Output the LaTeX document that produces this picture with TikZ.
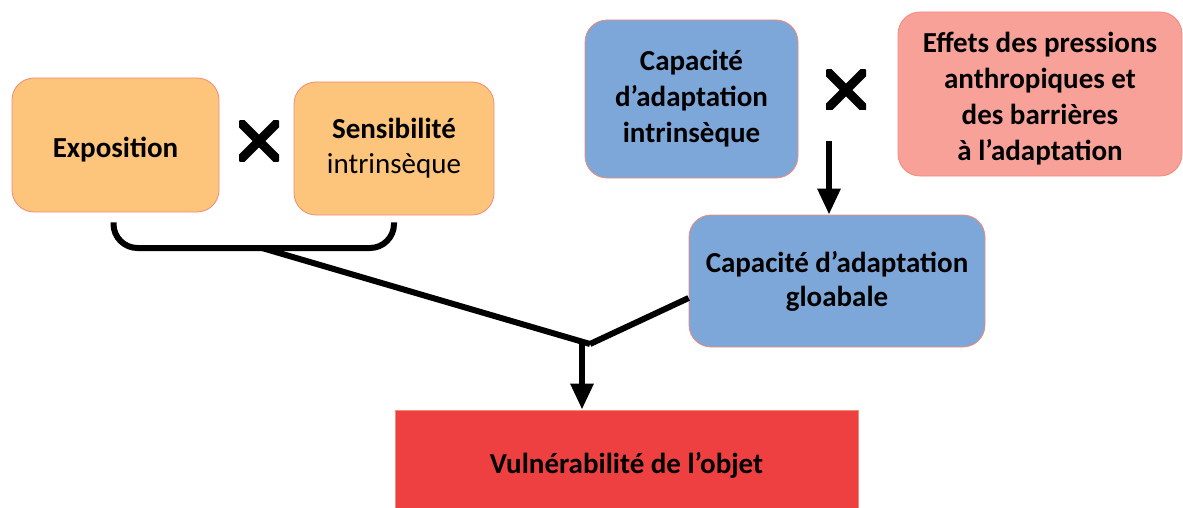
\documentclass[tikz,border=0pt]{standalone}
\usepackage{fontspec}
\setmainfont{Carlito}
\usetikzlibrary{arrows.meta,calc}
\definecolor{orangebox}{HTML}{FCC57B}
\definecolor{bluebox}{HTML}{7DA7D9}
\definecolor{salmonbox}{HTML}{F7A199}
\definecolor{redbox}{HTML}{EE4040}
\definecolor{edgecol}{HTML}{F28A78}
\tikzset{
  box/.style={draw=edgecol, line width=0.8pt, rounded corners=22pt, align=center,
    font=\fontsize{29}{36}\selectfont\bfseries, inner sep=4pt},
  conn/.style={line width=6pt, black},
  arr/.style={line width=6pt, black, -{Triangle[width=22pt,length=26pt]}},
  crossmark/.style={minimum size=40pt, inner sep=0pt,
    path picture={\draw[line width=9pt] (path picture bounding box.north west) -- (path picture bounding box.south east)
      (path picture bounding box.north east) -- (path picture bounding box.south west);}}
}
\begin{document}
\begin{tikzpicture}[x=1pt,y=-1pt]
\useasboundingbox (0,0) rectangle (1183,508);
\node[box, fill=orangebox, minimum width=207pt, minimum height=134pt] (expo) at (115.5,145) {\raisebox{-5pt}[\height][\depth]{Exposition}};
\node[box, fill=orangebox, minimum width=200pt, minimum height=133pt] (sens) at (394,148.5) {Sensibilité\\[-1pt]\mdseries intrinsèque};
\node[crossmark] (x1) at (259,141) {};
\node[box, fill=bluebox, minimum width=213pt, minimum height=158pt] (capi) at (691.5,99) {Capacité\\d’adaptation\\intrinsèque};
\node[crossmark] (x2) at (846,90) {};
\node[box, fill=salmonbox, minimum width=284pt, minimum height=164pt] (eff) at (1040,94) {\raisebox{-5pt}[\height][\depth]{\begin{tabular}{@{}c@{}}Effets des pressions\\anthropiques et\\des barrières\\à l’adaptation\end{tabular}}};
\node[box, fill=bluebox, minimum width=296pt, minimum height=132pt, font=\fontsize{29}{34}\selectfont\bfseries] (glob) at (837,281) {Capacité d’adaptation\\gloabale};
\node[draw=edgecol, line width=0.8pt, fill=redbox, minimum width=463pt, minimum height=110pt, font=\fontsize{29}{34}\selectfont\bfseries] (vuln) at (626.5,465) {Vulnérabilité de l’objet};
\coordinate (a1) at (829,141);
\draw[arr] (a1) -- (a1 |- glob.north);
\coordinate (brkmid) at (262,248);
\coordinate (join) at (590,344);
\coordinate (a2) at (582,341);
\draw[conn, rounded corners=24pt] ([xshift=-2pt,yshift=-10pt]expo.south) |- (brkmid) -| ([yshift=-7pt]sens.south);
\draw[conn] (brkmid) -- (join);
\draw[conn] ([yshift=-17pt]glob.west) -- (join);
\draw[arr] (a2) -- (a2 |- vuln.north);
\end{tikzpicture}
\end{document}
